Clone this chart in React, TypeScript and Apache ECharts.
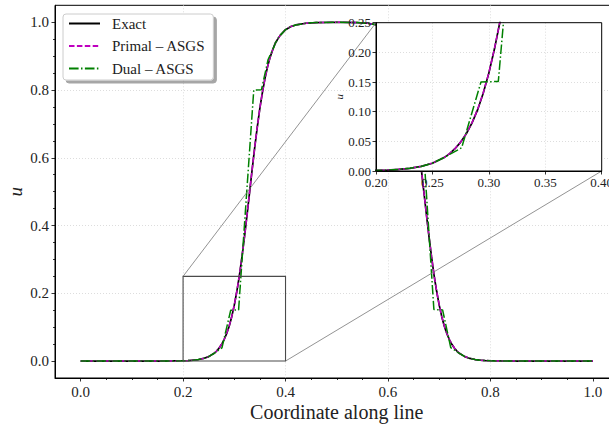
import { useEffect, useRef } from "react";
import * as echarts from "echarts";

const seriesNames = ["Exact", "Primal – ASGS", "Dual – ASGS"];
const xAxisLabel = "Coordinate along line";
const yAxisLabel = "u";

const xExact = [
  0, 0.05, 0.1, 0.15, 0.18, 0.2, 0.21, 0.22, 0.23, 0.24, 0.25, 0.26, 0.265, 0.27, 0.275, 0.28,
  0.285, 0.29, 0.295, 0.3, 0.305, 0.31, 0.315, 0.32, 0.325, 0.33, 0.335, 0.34, 0.345, 0.35,
  0.355, 0.36, 0.365, 0.37, 0.375, 0.38, 0.385, 0.39, 0.4, 0.41, 0.42, 0.44, 0.46, 0.5, 0.54,
  0.56, 0.58, 0.59, 0.6, 0.61, 0.615, 0.62, 0.625, 0.63, 0.635, 0.64, 0.645, 0.65, 0.655, 0.66,
  0.665, 0.67, 0.675, 0.68, 0.685, 0.69, 0.695, 0.7, 0.705, 0.71, 0.715, 0.72, 0.725, 0.73,
  0.735, 0.74, 0.75, 0.76, 0.77, 0.78, 0.79, 0.8, 0.82, 0.85, 0.9, 0.95, 1.0,
];
const uExact = [
  0, 0, 0, 0.0001, 0.0003, 0.0009, 0.0015, 0.0026, 0.0045, 0.0077, 0.0131, 0.0222, 0.0289, 0.0376,
  0.0487, 0.0628, 0.0808, 0.103, 0.131, 0.165, 0.206, 0.253, 0.308, 0.368, 0.433, 0.5, 0.567,
  0.632, 0.692, 0.747, 0.794, 0.835, 0.869, 0.897, 0.919, 0.938, 0.951, 0.962, 0.978, 0.987,
  0.992, 0.997, 0.999, 1.0, 0.999, 0.997, 0.992, 0.987, 0.978, 0.962, 0.951, 0.938, 0.919, 0.897,
  0.869, 0.835, 0.794, 0.747, 0.692, 0.632, 0.567, 0.5, 0.433, 0.368, 0.308, 0.253, 0.206, 0.165,
  0.131, 0.103, 0.0808, 0.0628, 0.0487, 0.0376, 0.0289, 0.0222, 0.0131, 0.0077, 0.0045, 0.0026,
  0.0015, 0.0009, 0.0003, 0.0001, 0, 0, 0,
];
const uPrimal = [
  0, 0, 0, 0.0001, 0.0003, 0.0009, 0.0016, 0.0027, 0.0046, 0.0078, 0.0133, 0.0224, 0.0291, 0.0378,
  0.0489, 0.0631, 0.0812, 0.1035, 0.1316, 0.1655, 0.2065, 0.2535, 0.3085, 0.3685, 0.4335, 0.5005,
  0.5675, 0.6325, 0.6925, 0.7472, 0.7942, 0.8352, 0.8692, 0.8972, 0.9191, 0.9381, 0.9511, 0.962,
  0.978, 0.987, 0.992, 0.997, 0.999, 1.0, 0.999, 0.997, 0.992, 0.987, 0.978, 0.962, 0.9511, 0.9381,
  0.9191, 0.8972, 0.8692, 0.8352, 0.7942, 0.7472, 0.6925, 0.6325, 0.5675, 0.5005, 0.4335, 0.3685,
  0.3085, 0.2535, 0.2065, 0.1655, 0.1316, 0.1035, 0.0812, 0.0631, 0.0489, 0.0378, 0.0291, 0.0224,
  0.0133, 0.0078, 0.0046, 0.0027, 0.0016, 0.0009, 0.0003, 0.0001, 0, 0, 0,
];
const xDual = [
  0, 0.05, 0.1, 0.15, 0.18, 0.2, 0.21, 0.22, 0.23, 0.24, 0.25, 0.2611, 0.2759, 0.293, 0.3084,
  0.338, 0.353, 0.366, 0.375, 0.38, 0.385, 0.39, 0.4, 0.41, 0.42, 0.44, 0.46, 0.5, 0.54, 0.56,
  0.58, 0.59, 0.6, 0.61, 0.615, 0.62, 0.625, 0.634, 0.647, 0.662, 0.6896, 0.7066, 0.7225, 0.738,
  0.75, 0.76, 0.77, 0.78, 0.79, 0.8, 0.82, 0.85, 0.9, 0.95, 1.0,
];
const uDual = [
  0, 0, 0, 0.0001, 0.0003, 0.0009, 0.0015, 0.0026, 0.0045, 0.0077, 0.0131, 0.0235, 0.0392, 0.15,
  0.151, 0.8, 0.801, 0.89, 0.919, 0.938, 0.951, 0.962, 0.978, 0.987, 0.992, 0.997, 0.999, 1.0,
  0.999, 0.997, 0.992, 0.987, 0.978, 0.962, 0.951, 0.938, 0.919, 0.89, 0.801, 0.8, 0.152, 0.151,
  0.04, 0.024, 0.0131, 0.0077, 0.0045, 0.0026, 0.0015, 0.0009, 0.0003, 0.0001, 0, 0, 0,
];

const xMainTicks = [0, 0.2, 0.4, 0.6, 0.8, 1.0];
const yMainTicks = [0, 0.2, 0.4, 0.6, 0.8, 1.0];
const minorTicks = [
  0.05, 0.1, 0.15, 0.25, 0.3, 0.35, 0.45, 0.5, 0.55, 0.65, 0.7, 0.75, 0.85, 0.9, 0.95,
];
const zoomX = [0.2, 0.4];
const zoomY = [0, 0.25];

const FONT = "'Liberation Serif', 'DejaVu Serif', serif";
const TXT = "#222";
const colors = ["#000000", "#bf00bf", "#008000"];
const lineTypes: any[] = ["solid", [5.5, 2.4], [9.6, 2.4, 1.5, 2.4]];
const lineWidths = [1.7, 1.5, 1.5];

const pairs = (xs: number[], ys: number[]) => xs.map((x, i) => [x, ys[i]]);

export default function App() {
  const ref = useRef<HTMLDivElement>(null);
  useEffect(() => {
    if (!ref.current) return;
    const chart = echarts.init(ref.current, undefined, { renderer: "svg" });
    const datasets = [pairs(xExact, uExact), pairs(xExact, uPrimal), pairs(xDual, uDual)];
    const grid = { color: "#d4d4d4", width: 0.8, type: [1, 2] as any };
    const split = { show: true, showMinLine: false, showMaxLine: false, lineStyle: grid };
    const tickStyle = { color: "#000", width: 0.8 };
    const spine = { show: true, onZero: false, lineStyle: { color: "#000", width: 1 } };
    const mkSeries = (xi: number, yi: number, z: number) =>
      datasets.map((d, i) => ({
        type: "line",
        name: seriesNames[i],
        xAxisIndex: xi,
        yAxisIndex: yi,
        data: d,
        showSymbol: false,
        symbol: "none",
        z,
        clip: true,
        lineStyle: { color: colors[i], width: lineWidths[i], type: lineTypes[i] },
        itemStyle: { color: colors[i] },
      }));
    const option: any = {
      animation: false,
      textStyle: { fontFamily: FONT },
      grid: [
        { left: 55, top: 5.3, width: 563.5, height: 372.7, show: true, borderColor: "#000", borderWidth: 1, backgroundColor: "transparent", z: 0, outerBoundsMode: "none", containLabel: false },
        { left: 376, top: 22.7, width: 225.7, height: 148.3, show: true, borderColor: "#000", borderWidth: 0, backgroundColor: "#fff", z: 5, outerBoundsMode: "none", containLabel: false },
      ],
      legend: {
        data: seriesNames,
        orient: "vertical",
        left: 63,
        top: 14,
        itemWidth: 31,
        itemHeight: 14,
        itemGap: 7.5,
        padding: [2, 8, 4, 5],
        backgroundColor: "#fff",
        borderColor: "#cccccc",
        borderWidth: 1,
        borderRadius: 3,
        shadowColor: "rgba(0,0,0,0.35)",
        shadowBlur: 1,
        shadowOffsetX: 3,
        shadowOffsetY: 3,
        z: 10,
        itemStyle: { opacity: 0 },
        textStyle: { fontFamily: FONT, fontSize: 15, color: TXT, padding: [0, 0, 0, 7] },
      },
      xAxis: [
        {
          type: "value", gridIndex: 0, min: -0.05, max: 1.05, position: "bottom",
          axisLine: spine,
          axisTick: { show: true, customValues: xMainTicks, length: 3.5, lineStyle: tickStyle },
          axisLabel: { customValues: xMainTicks, formatter: (v: number) => v.toFixed(1), fontSize: 15, fontFamily: FONT, color: TXT, margin: 6 },
          splitLine: split,
          name: xAxisLabel, nameLocation: "middle", nameGap: 24, nameMoveOverlap: false,
          nameTextStyle: { fontSize: 20, fontFamily: FONT, color: TXT },
        },
        {
          type: "value", gridIndex: 0, min: -0.05, max: 1.05, position: "bottom",
          axisLine: { show: false, onZero: false },
          axisTick: { show: true, customValues: minorTicks, length: 2, lineStyle: tickStyle },
          axisLabel: { show: false },
          splitLine: { show: false },
        },
        {
          type: "value", gridIndex: 1, min: 0.2, max: 0.4, interval: 0.05, z: 6,
          axisLine: spine,
          axisTick: { show: true, length: 3.5, lineStyle: tickStyle },
          axisLabel: { formatter: (v: number) => v.toFixed(2), fontSize: 13, fontFamily: FONT, color: TXT, margin: 5 },
          splitLine: split,
        },
      ],
      yAxis: [
        {
          type: "value", gridIndex: 0, min: -0.05, max: 1.05, position: "left",
          axisLine: spine,
          axisTick: { show: true, customValues: yMainTicks, length: 3.5, lineStyle: tickStyle },
          axisLabel: { customValues: yMainTicks, formatter: (v: number) => v.toFixed(1), fontSize: 15, fontFamily: FONT, color: TXT, margin: 6 },
          splitLine: split,
          name: yAxisLabel, nameLocation: "middle", nameGap: 30, nameMoveOverlap: false,
          nameTextStyle: { fontSize: 19, fontFamily: FONT, fontStyle: "italic", color: TXT },
        },
        {
          type: "value", gridIndex: 0, min: -0.05, max: 1.05, position: "left",
          axisLine: { show: false, onZero: false },
          axisTick: { show: true, customValues: minorTicks, length: 2, lineStyle: tickStyle },
          axisLabel: { show: false },
          splitLine: { show: false },
        },
        {
          type: "value", gridIndex: 1, min: 0, max: 0.25, interval: 0.05, z: 6,
          axisLine: spine,
          axisTick: { show: true, length: 3.5, lineStyle: tickStyle },
          axisLabel: { formatter: (v: number) => v.toFixed(2), fontSize: 13, fontFamily: FONT, color: TXT, margin: 5 },
          splitLine: split,
          name: yAxisLabel, nameLocation: "middle", nameGap: 32, nameMoveOverlap: false,
          nameTextStyle: { fontSize: 11, fontFamily: FONT, fontStyle: "italic", color: TXT },
        },
      ],
      series: [...mkSeries(0, 0, 2), ...mkSeries(2, 2, 7)],
    };
    chart.setOption(option);

    const mainPx = (x: number, y: number) => chart.convertToPixel({ xAxisIndex: 0, yAxisIndex: 0 } as any, [x, y]) as number[];
    const insetPx = (x: number, y: number) => chart.convertToPixel({ xAxisIndex: 2, yAxisIndex: 2 } as any, [x, y]) as number[];
    const bTL = mainPx(zoomX[0], zoomY[1]);
    const bBR = mainPx(zoomX[1], zoomY[0]);
    const iTL = insetPx(zoomX[0], zoomY[1]);
    const iBR = insetPx(zoomX[1], zoomY[0]);
    chart.setOption({
      graphic: [
        {
          type: "rect", z: 3, silent: true,
          shape: { x: bTL[0], y: bTL[1], width: bBR[0] - bTL[0], height: bBR[1] - bTL[1] },
          style: { fill: "none", stroke: "#4a4a4a", lineWidth: 1.1 },
        },
        {
          type: "line", z: 3, silent: true,
          shape: { x1: bTL[0], y1: bTL[1], x2: iTL[0], y2: iTL[1] },
          style: { stroke: "#777", lineWidth: 0.8 },
        },
        {
          type: "line", z: 3, silent: true,
          shape: { x1: bBR[0], y1: bBR[1], x2: iBR[0], y2: iBR[1] },
          style: { stroke: "#777", lineWidth: 0.8 },
        },
        {
          type: "rect", z: 9, silent: true,
          shape: { x: iTL[0], y: iTL[1], width: iBR[0] - iTL[0], height: iBR[1] - iTL[1] },
          style: { fill: "none", stroke: "#000", lineWidth: 1 },
        },
      ],
    });
    return () => chart.dispose();
  }, []);
  return (
    <div
      ref={ref}
      style={{ position: "fixed", left: 0, top: 0, width: 609, height: 424, background: "#fff" }}
    />
  );
}
